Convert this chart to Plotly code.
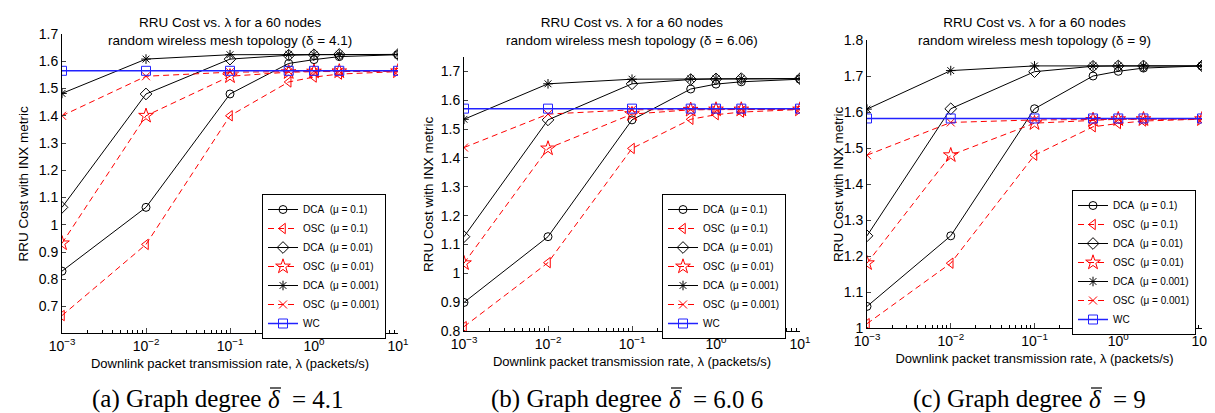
import plotly.graph_objects as go

# ---------------- data ----------------
lam = [0.001, 0.01, 0.1, 0.5, 1, 2, 10]

series_names = ["DCA\u00a0\u00a0(μ = 0.1)", "OSC\u00a0\u00a0(μ = 0.1)",
                "DCA\u00a0\u00a0(μ = 0.01)", "OSC\u00a0\u00a0(μ = 0.01)",
                "DCA\u00a0\u00a0(μ = 0.001)", "OSC\u00a0\u00a0(μ = 0.001)", "WC"]

# panel (a) delta = 4.1
a_dca_1 = [0.83, 1.064, 1.48, 1.592, 1.606, 1.617, 1.624]
a_osc_1 = [0.667, 0.928, 1.40, 1.524, 1.542, 1.553, 1.562]
a_dca_01 = [1.064, 1.48, 1.608, 1.622, 1.624, 1.625, 1.625]
a_osc_01 = [0.932, 1.40, 1.545, 1.560, 1.562, 1.563, 1.563]
a_dca_001 = [1.482, 1.608, 1.624, 1.625, 1.625, 1.625, 1.625]
a_osc_001 = [1.40, 1.545, 1.560, 1.562, 1.563, 1.563, 1.563]
a_wc = [1.565, 1.565, 1.565, 1.565, 1.565, 1.565, 1.565]

# panel (b) delta = 6.06
b_dca_1 = [0.899, 1.127, 1.532, 1.639, 1.656, 1.664, 1.673]
b_osc_1 = [0.815, 1.037, 1.433, 1.534, 1.550, 1.559, 1.568]
b_dca_01 = [1.127, 1.532, 1.657, 1.672, 1.674, 1.675, 1.675]
b_osc_01 = [1.035, 1.433, 1.552, 1.567, 1.568, 1.568, 1.568]
b_dca_001 = [1.534, 1.657, 1.673, 1.674, 1.675, 1.675, 1.675]
b_osc_001 = [1.436, 1.552, 1.567, 1.568, 1.568, 1.568, 1.568]
b_wc = [1.571, 1.571, 1.571, 1.571, 1.571, 1.571, 1.571]

# panel (c) delta = 9
c_dca_1 = [1.06, 1.256, 1.609, 1.700, 1.713, 1.722, 1.728]
c_osc_1 = [1.012, 1.18, 1.48, 1.559, 1.568, 1.575, 1.580]
c_dca_01 = [1.256, 1.609, 1.712, 1.727, 1.728, 1.728, 1.728]
c_osc_01 = [1.18, 1.48, 1.569, 1.578, 1.580, 1.580, 1.580]
c_dca_001 = [1.608, 1.715, 1.728, 1.728, 1.728, 1.728, 1.728]
c_osc_001 = [1.48, 1.571, 1.578, 1.580, 1.580, 1.580, 1.580]
c_wc = [1.582, 1.582, 1.582, 1.582, 1.582, 1.582, 1.582]

x_tickvals = [0.001, 0.01, 0.1, 1, 10]
x_ticktext = ["10<sup>−3</sup>", "10<sup>−2</sup>", "10<sup>−1</sup>", "10<sup>0</sup>", "10<sup>1</sup>"]
x_minor_tickvals = [m * d for d in (0.001, 0.01, 0.1, 1) for m in range(2, 10)]

titles = ["RRU Cost vs. λ for a 60 nodes<br>random wireless mesh topology (δ = 4.1)",
          "RRU Cost vs. λ for a 60 nodes<br>random wireless mesh topology (δ = 6.06)",
          "RRU Cost vs. λ for a 60 nodes<br>random wireless mesh topology (δ = 9)"]
caption_left = ["(a) Graph degree", "(b) Graph degree", "(c) Graph degree"]
caption_sym = "<i>δ</i>"
caption_right = ["= 4.1", "= 6.0 6", "= 9"]
x_title = "Downlink packet transmission rate, λ (packets/s)"
y_title = "RRU Cost with INX metric"

panels = [
    [a_dca_1, a_osc_1, a_dca_01, a_osc_01, a_dca_001, a_osc_001, a_wc],
    [b_dca_1, b_osc_1, b_dca_01, b_osc_01, b_dca_001, b_osc_001, b_wc],
    [c_dca_1, c_osc_1, c_dca_01, c_osc_01, c_dca_001, c_osc_001, c_wc],
]
y_ranges = [[0.603, 1.7], [0.8, 1.75], [1.0, 1.8]]

# ---------------- styles ----------------
W, H = 1215, 413
styles = [
    dict(color="black", dash="solid", symbol="circle-open", size=8),
    dict(color="#ff0000", dash="6px,4px", symbol="triangle-left-open", size=9),
    dict(color="black", dash="solid", symbol="diamond-open", size=9),
    dict(color="#ff0000", dash="6px,4px", symbol="star-open", size=11),
    dict(color="black", dash="solid", symbol="asterisk-open", size=8),
    dict(color="#ff0000", dash="6px,4px", symbol="x-thin-open", size=8),
    dict(color="#2222ff", dash="solid", symbol="square-open", size=9),
]
# plot areas in pixels: (left, right, top, bottom)
areas = [(54, 390, 26, 325), (456, 792, 49, 323), (859, 1194, 32, 320)]
legend_pos = [(254, 186), (654, 186), (1064, 182)]
ylabel_x = [15, 420, 830]
delta_x = [266, 667, 1087]   # centre of the caption's delta symbol
CAP_Y = 391
BAR_Y = 380
FONT = "Liberation Sans, Arial, sans-serif"
SERIF = "Liberation Serif, Times New Roman, serif"

fig = go.Figure()
for p, data in enumerate(panels):
    xa = "x" if p == 0 else f"x{p+1}"
    ya = "y" if p == 0 else f"y{p+1}"
    lg = "legend" if p == 0 else f"legend{p+1}"
    for s, (vals, st, nm) in enumerate(zip(data, styles, series_names)):
        fig.add_trace(go.Scatter(
            x=lam, y=vals, name=nm, mode="lines+markers",
            xaxis=xa, yaxis=ya, legend=lg,
            line=dict(color=st["color"], width=1.5 if s == 6 else 1, dash=st["dash"]),
            marker=dict(symbol=st["symbol"], size=st["size"], color=st["color"],
                        line=dict(color=st["color"], width=1)),
        ))

layout = dict(width=W, height=H, margin=dict(l=0, r=0, t=0, b=0),
              paper_bgcolor="white", plot_bgcolor="white",
              font=dict(family=FONT, size=12, color="black"),
              annotations=[], shapes=[])
for p in range(3):
    l, r, t, b = areas[p]
    sx = "" if p == 0 else str(p + 1)
    layout[f"xaxis{sx}"] = dict(
        type="log", range=[-3, 1], domain=[l / W, r / W], anchor=f"y{sx}",
        tickvals=x_tickvals, ticktext=x_ticktext, ticks="inside", ticklen=5,
        tickfont=dict(size=14), showline=True, linecolor="black", linewidth=1,
        showgrid=False, zeroline=False, automargin=False,
        minor=dict(tickvals=x_minor_tickvals, ticks="inside", ticklen=3,
                   tickcolor="black", showgrid=False),
        title=dict(text=x_title, font=dict(size=13), standoff=6),
    )
    layout[f"yaxis{sx}"] = dict(
        range=y_ranges[p], domain=[1 - b / H, 1 - t / H], anchor=f"x{sx}",
        tick0=0.0, dtick=0.1, ticks="inside", ticklen=4, tickfont=dict(size=14),
        showline=True, linecolor="black", linewidth=1,
        showgrid=False, zeroline=False, automargin=False,
    )
    lgk = "legend" if p == 0 else f"legend{p+1}"
    lx, ly = legend_pos[p]
    layout[lgk] = dict(x=lx / W, y=1 - ly / H, xanchor="left", yanchor="top",
                       bgcolor="white", bordercolor="black", borderwidth=1,
                       font=dict(size=10, family=FONT), itemwidth=30,
                       tracegroupgap=0)
    cx = (l + r) / 2 / W
    dx = delta_x[p]
    cap_font = dict(size=25, family=SERIF)
    layout["annotations"] += [
        dict(text=titles[p], x=cx, y=1 - 23.5 / H, xref="paper", yref="paper",
             showarrow=False, font=dict(size=13.5), xanchor="center", yanchor="middle"),
        dict(text=y_title, x=ylabel_x[p] / W, y=1 - ((t + b) / 2) / H, xref="paper",
             yref="paper", showarrow=False, textangle=-90, font=dict(size=13.5),
             xanchor="center", yanchor="middle"),
        dict(text=caption_left[p], x=(dx - 11) / W, y=1 - CAP_Y / H, xref="paper",
             yref="paper", showarrow=False, font=cap_font,
             xanchor="right", yanchor="middle"),
        dict(text=caption_sym, x=dx / W, y=1 - CAP_Y / H, xref="paper",
             yref="paper", showarrow=False, font=cap_font,
             xanchor="center", yanchor="middle"),
        dict(text=caption_right[p], x=(dx + 16) / W, y=1 - CAP_Y / H, xref="paper",
             yref="paper", showarrow=False, font=cap_font,
             xanchor="left", yanchor="middle"),
    ]
    # overbar of the delta symbol
    layout["shapes"].append(dict(type="line", xref="paper", yref="paper",
                                 x0=(dx - 4) / W, x1=(dx + 7) / W,
                                 y0=1 - BAR_Y / H, y1=1 - BAR_Y / H,
                                 line=dict(color="black", width=1.2)))
fig.update_layout(**layout)
fig.write_html("out.html")
